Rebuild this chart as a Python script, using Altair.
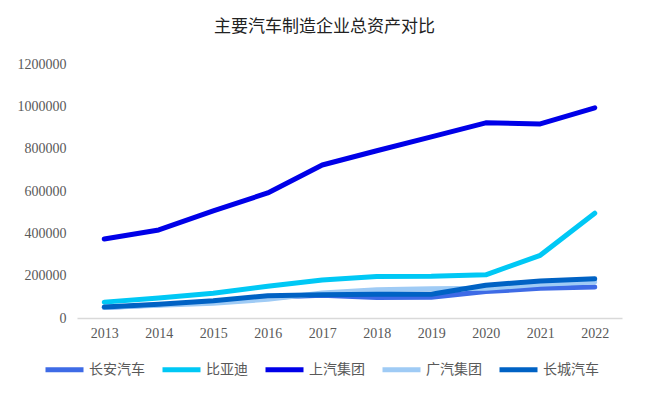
import altair as alt
import pandas as pd

years = ["2013", "2014", "2015", "2016", "2017", "2018", "2019", "2020", "2021", "2022"]
series_names = ["长安汽车", "比亚迪", "上汽集团", "广汽集团", "长城汽车"]
changan = [50000, 62000, 76000, 98000, 108000, 97000, 98000, 125000, 140000, 146000]
byd = [75000, 95000, 117000, 150000, 180000, 196000, 197000, 204000, 296000, 495000]
saic = [373000, 416000, 506000, 591000, 723000, 790000, 856000, 922000, 917000, 993000]
gac = [50000, 60000, 70000, 88000, 118000, 133000, 138000, 140000, 160000, 170000]
gwm = [52000, 65000, 82000, 105000, 110000, 112000, 112000, 155000, 175000, 185000]
colors = ["#3E6BE6", "#00C8F5", "#0000E8", "#9FCBF5", "#0062C4"]

rows = []
for name, vals in zip(series_names, [changan, byd, saic, gac, gwm]):
    for y, v in zip(years, vals):
        rows.append({"year": y, "value": v, "series": name})
df = pd.DataFrame(rows)

chart = alt.Chart(df).mark_line(strokeWidth=5, strokeCap="round", strokeJoin="round").encode(
    x=alt.X("year:O", sort=years, scale=alt.Scale(padding=0.5),
            axis=alt.Axis(title=None, labelAngle=0, ticks=False, domainColor="#D9D9D9",
                          domainWidth=1.5, labelFont="Liberation Serif", labelFontSize=14,
                          labelColor="#595959", labelPadding=8, grid=False)),
    y=alt.Y("value:Q", scale=alt.Scale(domain=[0, 1200000], nice=False),
            axis=alt.Axis(title=None, values=[0, 200000, 400000, 600000, 800000, 1000000, 1200000],
                          format="d", domain=False, ticks=False, grid=False,
                          labelFont="Liberation Serif", labelFontSize=14, labelColor="#595959",
                          labelPadding=11)),
    color=alt.Color("series:N", scale=alt.Scale(domain=series_names, range=colors),
                    sort=series_names,
                    legend=alt.Legend(title=None, orient="none", direction="horizontal",
                                      legendX=-34, legendY=284, symbolType="stroke",
                                      symbolSize=1444, symbolStrokeWidth=5,
                                      labelFont="Noto Sans CJK SC", labelFontSize=14,
                                      labelColor="#595959", labelOffset=3, columnPadding=7,
                                      padding=0)),
    detail="series:N",
).properties(
    width=545,
    height=254,
    title=alt.TitleParams("主要汽车制造企业总资产对比", font="Noto Sans CJK SC", fontSize=17,
                          fontWeight="normal", color="#222222", anchor="middle", dx=-25, offset=21),
    autosize=alt.AutoSizeParams(type="none"),
    padding={"left": 69, "top": 56, "right": 15, "bottom": 70},
).configure_view(stroke=None)

chart.save("out.html", embed_options={"renderer": "svg", "actions": False})
